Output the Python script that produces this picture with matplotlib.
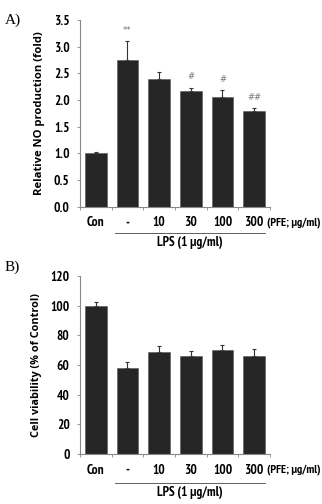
import matplotlib
matplotlib.use('Agg')
import matplotlib.pyplot as plt
import matplotlib.transforms as mtransforms
import numpy as np

plt.rcParams['font.family'] = ['PT Sans Narrow', 'DejaVu Sans']

labels = ['Con', '-', '10', '30', '100', '300']
no_vals = [1.0, 2.75, 2.39, 2.17, 2.06, 1.80]
no_err = [0.02, 0.36, 0.14, 0.06, 0.13, 0.05]
no_marks = ['', '**', '', '#', '#', '##']
via_vals = [100.0, 58.2, 68.6, 65.9, 70.1, 66.3]
via_err = [2.3, 3.6, 4.2, 3.3, 3.4, 4.3]

fig = plt.figure(figsize=(3.22, 5.04), dpi=100, facecolor='white')
ax1 = fig.add_axes([0.2484, 0.590, 0.590, 0.370])
ax2 = fig.add_axes([0.2484, 0.0992, 0.590, 0.3532])

axcol = '#888888'
barcol = '#262626'
tfs = 9.5


def panel(ax, vals, errs, ylim, yticks, yfmt, ylabel, ylfs, lps_y):
    x = np.arange(len(vals))
    ax.bar(x, vals, width=0.69, color=barcol, edgecolor='#555555', linewidth=0.4, zorder=2)
    ax.errorbar(x, vals, yerr=[np.zeros(len(errs)), errs], fmt='none',
                ecolor='#333333', elinewidth=0.8, capsize=1.5, capthick=0.8, zorder=1)
    ax.set_xlim(-0.5, 5.5)
    ax.set_ylim(*ylim)
    ax.set_yticks(yticks)
    ax.set_yticklabels([yfmt % v for v in yticks], fontsize=tfs, fontweight='bold')
    ax.set_xticks(x)
    ax.set_xticklabels(labels, fontsize=tfs, fontweight='bold')
    ax.set_xticks(np.arange(-0.5, 6.0, 1.0), minor=True)
    ax.tick_params(axis='x', which='major', length=0, pad=7)
    ax.tick_params(axis='x', which='minor', length=2.5, color=axcol, width=0.6)
    ax.tick_params(axis='y', length=2.5, color=axcol, width=0.6, pad=5)
    for s in ['top', 'right']:
        ax.spines[s].set_visible(False)
    for s in ['left', 'bottom']:
        ax.spines[s].set_color(axcol)
        ax.spines[s].set_linewidth(0.8)
    ax.set_ylabel(ylabel, fontsize=ylfs, fontweight='bold', family=['Open Sans', 'DejaVu Sans'],
                  labelpad=6)
    trans = mtransforms.blended_transform_factory(ax.transData, ax.transAxes)
    ax.annotate('(PFE; \u03bcg/ml)', xy=(5.40, 0), xycoords=trans, xytext=(0, -7.3),
                textcoords='offset points', ha='left', va='top', fontsize=8.6, fontweight='bold')
    ax.plot([0.6, 5.35], [lps_y, lps_y], transform=trans, color='#444444', lw=0.6, clip_on=False)
    ax.annotate('LPS (1 \u03bcg/ml)', xy=(2.98, lps_y), xycoords=trans, xytext=(0, -2.5),
                textcoords='offset points', ha='center', va='top', fontsize=tfs, fontweight='bold')


panel(ax1, no_vals, no_err, (0, 3.5), [0.0, 0.5, 1.0, 1.5, 2.0, 2.5, 3.0, 3.5], '%.1f',
      'Relative NO production (fold)', 8.1, -0.139)
panel(ax2, via_vals, via_err, (0, 120), [0, 20, 40, 60, 80, 100, 120], '%d',
      'Cell viability (% of Control)', 7.8, -0.163)

for i, m in enumerate(no_marks):
    if m:
        ax1.text(i, no_vals[i] + no_err[i] + 0.12, m, ha='center', va='bottom',
                 fontsize=6, color='#777777', family='DejaVu Sans')

fig.text(0.015, 0.96, 'A)', family=['Liberation Serif', 'DejaVu Serif'], fontsize=11, va='center')
fig.text(0.015, 0.47, 'B)', family=['Liberation Serif', 'DejaVu Serif'], fontsize=11, va='center')

fig.savefig('out.png', dpi=100, facecolor='white')
